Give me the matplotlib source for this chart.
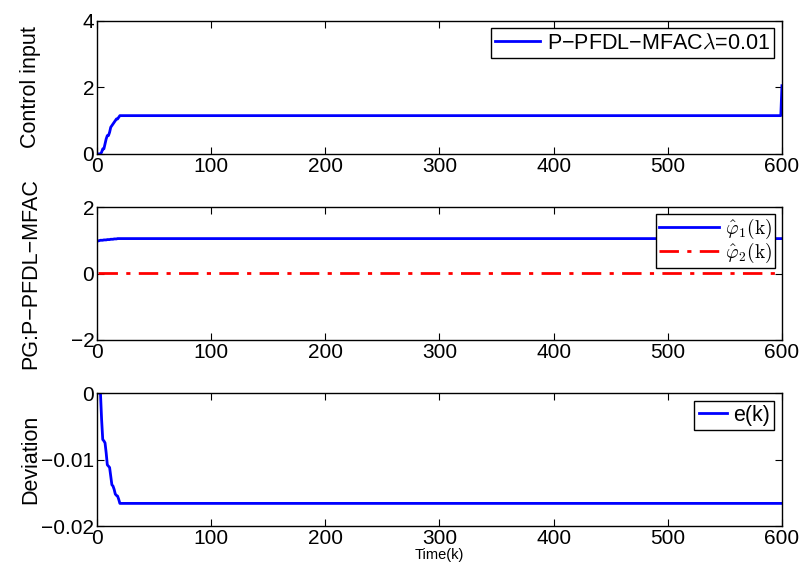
import numpy as np
import matplotlib.pyplot as plt

plt.rcParams['font.family'] = ['Liberation Sans', 'DejaVu Sans']
plt.rcParams['mathtext.fontset'] = 'cm'

k = np.arange(1, 601)

# start-up transients (k = 1..21), then the signals settle
u_start = [0.0, 0.0, 0.0, 0.05, 0.15, 0.15, 0.3, 0.45, 0.55, 0.55, 0.65, 0.8, 0.85,
           0.9, 0.95, 1.0, 1.05, 1.05, 1.1, 1.15, 1.15]
u_final = 1.15
u_last = 2.05

phi1_start = [0.98, 0.99, 1.0, 1.0, 1.0, 1.01, 1.01, 1.01, 1.02, 1.02, 1.02, 1.03,
              1.03, 1.03, 1.04, 1.04, 1.04, 1.05, 1.05, 1.05, 1.05]
phi1_final = 1.05
phi2_value = 0.02

e_start = [0.0, 0.0, 0.0, -0.004, -0.007, -0.0072, -0.0075, -0.009, -0.0108, -0.011,
           -0.0112, -0.0125, -0.0138, -0.014, -0.0145, -0.0152, -0.0154, -0.0155,
           -0.016, -0.0166, -0.0166]
e_final = -0.0166

u = np.full(k.size, u_final)
u[:len(u_start)] = u_start
u[-1] = u_last

phi1 = np.full(k.size, phi1_final)
phi1[:len(phi1_start)] = phi1_start
phi2 = np.full(k.size, phi2_value)

e = np.full(k.size, e_final)
e[:len(e_start)] = e_start

fs = 15.5
leg_kw = dict(loc='upper right', fancybox=False, edgecolor='black', framealpha=1,
              borderaxespad=0.35, handletextpad=0.3)

fig = plt.figure(figsize=(8.02, 5.72), dpi=100)
left, width, height = 0.121, 0.854, 0.2325
ax1 = fig.add_axes([left, 0.731, width, height])
ax2 = fig.add_axes([left, 0.4056, width, height])
ax3 = fig.add_axes([left, 0.0804, width, height])

ax1.plot(k, u, color='#0000ff', lw=2.0, label='P−PFDL−MFAC$\\lambda$=0.01')
ax1.set_ylim(0, 4)
ax1.set_yticks([0, 2, 4])
ax1.set_ylabel('Control input', fontsize=fs)
ax1.legend(fontsize=fs, handlelength=2.1, borderpad=0.2, **leg_kw)

ax2.plot(k, phi1, color='#0000ff', lw=2.0, label=r'$\hat{\varphi}_1(\mathrm{k})$')
ax2.plot(k, phi2, color='red', lw=2.0, ls=(0, (7, 3, 1.5, 3)),
         label=r'$\hat{\varphi}_2(\mathrm{k})$')
ax2.set_ylim(-2, 2)
ax2.set_yticks([-2, 0, 2])
ax2.set_yticklabels(['−2', '0', '2'])
ax2.set_ylabel('PG:P−PFDL−MFAC', fontsize=fs)
ax2.legend(fontsize=14, handlelength=3.1, borderpad=0.15, labelspacing=0.0, **leg_kw)

ax3.plot(k, e, color='#0000ff', lw=2.0, label='e(k)')
ax3.set_ylim(-0.02, 0)
ax3.set_yticks([-0.02, -0.01, 0])
ax3.set_yticklabels(['−0.02', '−0.01', '0'])
ax3.set_ylabel('Deviation', fontsize=fs)
ax3.set_xlabel('Time(k)', fontsize=10.5, labelpad=0)
ax3.legend(fontsize=fs, handlelength=1.3, borderpad=0.2, **leg_kw)

for ax in (ax1, ax2, ax3):
    ax.set_xlim(0, 600)
    ax.set_xticks(np.arange(0, 601, 100))
    ax.tick_params(direction='in', top=True, right=True, length=5, labelsize=15, pad=2)
    ax.yaxis.set_label_coords(-0.082, 0.5)
    for sp in ax.spines.values():
        sp.set_linewidth(1.0)

fig.savefig('out.png', dpi=100)
